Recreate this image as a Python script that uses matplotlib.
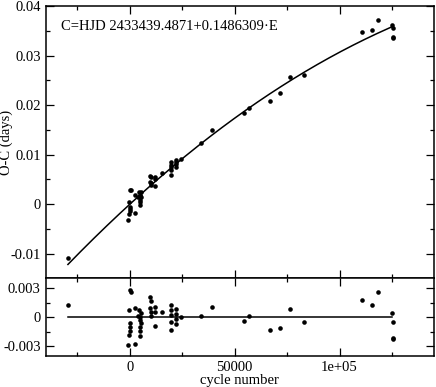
#!/usr/bin/env python3
"""O-C diagram with quadratic ephemeris fit and residuals."""
import matplotlib
matplotlib.use("Agg")
import matplotlib.pyplot as plt
import numpy as np
from matplotlib.ticker import FixedLocator, MultipleLocator, FuncFormatter

# cycle number E, O-C (days), residual from fit (days)
cycles = [-29400, 300, 600, -400, 0, 400, 300, -200, -600, 2400,
          2400, 3800, 4500, 5200, 4800, 5000, 5300, 4900, 5000, 4800,
          9800, 10200, 9500, 12000, 10000, 12300, 10000, 12000, 15600, 19800,
          19500, 22300, 19800, 22300, 19800, 22300, 22000, 19500, 24600, 34000,
          39300, 54300, 56700, 66700, 71400, 76200, 83300, 110800, 115500, 118200,
          125000, 125600, 125300, 125300]
o_c = [-0.0110, 0.00285, 0.00276, 0.00048, -0.00067, -0.00092, -0.00135, -0.00195, -0.0032, -0.00189,
       0.00176, 0.0015, 0.00236, 0.00233, 0.00178, 0.00155, 0.00137, 0.00082, 0.00045, -0.00012,
       0.00576, 0.00551, 0.00445, 0.00548, 0.00424, 0.00509, 0.00384, 0.00358, 0.0063, 0.00856,
       0.0079, 0.00899, 0.00751, 0.0085, 0.00681, 0.00799, 0.00739, 0.00584, 0.0090, 0.0123,
       0.01495, 0.01829, 0.01945, 0.02088, 0.02244, 0.02562, 0.02611, 0.03481, 0.03517, 0.03711,
       0.0362, 0.03547, 0.03376, 0.03356]
resid = [0.00125, 0.0028, 0.0026, 0.0007, -0.0006, -0.0010, -0.0014, -0.0018, -0.0029, -0.00275,
         0.0009, 0.0001, 0.0007, 0.0004, 0.0000, -0.0003, -0.0006, -0.0010, -0.0014, -0.0019,
         0.0021, 0.0017, 0.0009, 0.0010, 0.0005, 0.0005, 0.0001, -0.0009, 0.0005, 0.00125,
         0.0007, 0.0008, 0.0002, 0.0003, -0.0005, -0.0002, -0.0007, -0.00136, 0.0000, 0.0001,
         0.0010, -0.00035, 0.0001, -0.00136, -0.0011, 0.0008, -0.00055, 0.0018, 0.0012, 0.0026,
         0.0004, -0.00045, -0.0021, -0.0023]

# quadratic fit coefficients (highest power first)
fit_coef = [-8.137e-13, 3.887e-7, -7e-5]
fit_range = [-29400, 125000]

plt.rcParams["font.family"] = ["Liberation Serif", "DejaVu Serif"]
plt.rcParams["font.size"] = 10.5

fig = plt.figure(figsize=(4.36, 3.87), dpi=100)
ax1 = fig.add_axes([0.1048, 0.2809, 0.8906, 0.7036])
ax2 = fig.add_axes([0.1048, 0.0801, 0.8906, 0.2008])

e_line = np.linspace(fit_range[0], fit_range[1], 300)
ax1.plot(e_line, np.polyval(fit_coef, e_line), color="black", lw=1.1)
ax1.plot(cycles, o_c, "o", color="black", ms=3.3, mec="none")
ax2.plot(fit_range, [0, 0], color="black", lw=1.1)
ax2.plot(cycles, resid, "o", color="black", ms=3.3, mec="none")

for ax in (ax1, ax2):
    ax.set_xlim(-40000, 145000)
    ax.xaxis.set_major_locator(MultipleLocator(50000))
    ax.xaxis.set_minor_locator(MultipleLocator(25000))
    ax.tick_params(which="both", direction="in", top=True, right=True, width=0.9)
    ax.tick_params(which="major", length=6)
    ax.tick_params(which="minor", length=3)
    for s in ax.spines.values():
        s.set_linewidth(1.1)

ax1.set_ylim(-0.015, 0.04)
ax1.yaxis.set_major_locator(MultipleLocator(0.01))
ax1.yaxis.set_minor_locator(MultipleLocator(0.005))
ax1.yaxis.set_major_formatter(FuncFormatter(lambda v, p: "0" if abs(v) < 1e-9 else f"{v:g}"))
ax1.tick_params(labelbottom=False)
ax1.set_ylabel("O-C (days)")
ax1.yaxis.set_label_coords(-0.085, 0.5)
ax1.text(0.04, 0.925, "C=HJD 2433439.4871+0.1486309\u00b7E", transform=ax1.transAxes,
         ha="left", va="center", fontsize=10.5)

ax2.set_ylim(-0.004, 0.004)
ax2.yaxis.set_major_locator(FixedLocator([-0.003, 0, 0.003]))
ax2.yaxis.set_minor_locator(MultipleLocator(0.0015))
ax2.yaxis.set_major_formatter(FuncFormatter(lambda v, p: "0" if abs(v) < 1e-9 else f"{v:g}"))
ax2.xaxis.set_major_formatter(FuncFormatter(lambda v, p: {0: "0", 50000: "50000", 100000: "1e+05"}.get(int(round(v)), "")))
ax2.set_xlabel("cycle number", labelpad=0)

fig.savefig("out.png", dpi=100)
